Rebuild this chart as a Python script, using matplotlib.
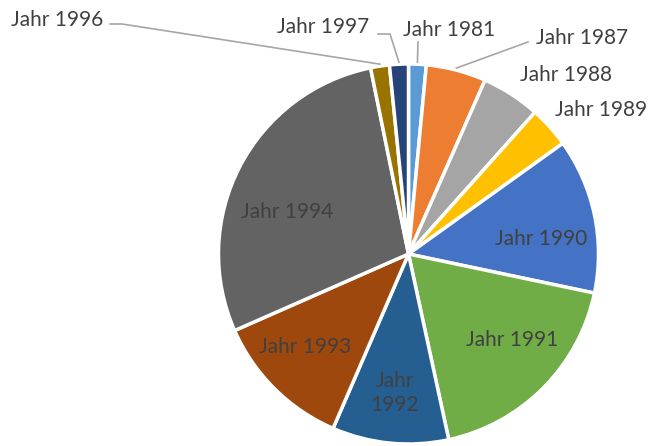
import numpy as np
import matplotlib.pyplot as plt

labels = ['Jahr 1981', 'Jahr 1987', 'Jahr 1988', 'Jahr 1989', 'Jahr 1990', 'Jahr 1991',
          'Jahr 1992', 'Jahr 1993', 'Jahr 1994', 'Jahr 1996', 'Jahr 1997']
values = [1.5, 5.1, 5.0, 3.5, 13.2, 18.3, 9.9, 11.9, 28.4, 1.6, 1.6]
colors = ['#5B9BD5', '#ED7D31', '#A5A5A5', '#FFC000', '#4472C4', '#70AD47',
          '#255E91', '#9E480E', '#636363', '#997300', '#264478']

plt.rcParams['font.family'] = ['Lato', 'DejaVu Sans']
W, H = 650, 446
fig = plt.figure(figsize=(W / 100, H / 100), dpi=100)
ax = fig.add_axes([0, 0, 1, 1])

cx, cy, r = 408.5, H - 254, 190
wedges, _ = ax.pie(values, colors=colors, startangle=90, counterclock=False,
                   center=(cx, cy), radius=r, frame=True,
                   wedgeprops=dict(edgecolor='white', linewidth=2.5))
ax.set_xlim(0, W)
ax.set_ylim(0, H)
ax.axis('off')

txt = '#404040'
fs = 15

# labels inside the bigger slices (pixel positions, y from top)
inside = {4: (541, 239, 'Jahr 1990'), 5: (512, 340, 'Jahr 1991'),
          6: (395, 393, 'Jahr\n1992'), 7: (305, 347, 'Jahr 1993'),
          8: (287, 212, 'Jahr 1994')}
for i, (x, y, s) in inside.items():
    ax.text(x, H - y, s, ha='center', va='center', color=txt, fontsize=fs,
            linespacing=1.3)

# labels outside, with leader lines
lc = '#A6A6A6'
def edge_point(i):
    start = 90 - 360 * sum(values[:i]) / sum(values)
    mid = np.deg2rad(start - 180 * values[i] / sum(values))
    return cx + r * np.cos(mid), cy + r * np.sin(mid)

out = {0: ((449, 30), [(418, 42)]),
       1: ((582, 38), [(528, 42)]),
       9: ((57, 20), [(110, 24), (122, 24)]),
       10: ((323, 27), [(378, 34), (390, 34)])}
for i, ((x, y), pts) in out.items():
    ax.text(x, H - y, labels[i], ha='center', va='center', color=txt, fontsize=fs)
    ex, ey = edge_point(i)
    xs = [p[0] for p in pts] + [ex]
    ys = [H - p[1] for p in pts] + [ey + 2]
    ax.plot(xs, ys, color=lc, lw=1.2)

ax.text(566, H - 75, labels[2], ha='center', va='center', color=txt, fontsize=fs)
ax.text(647, H - 110, labels[3], ha='right', va='center', color=txt, fontsize=fs)

fig.savefig('out.png', dpi=100)
